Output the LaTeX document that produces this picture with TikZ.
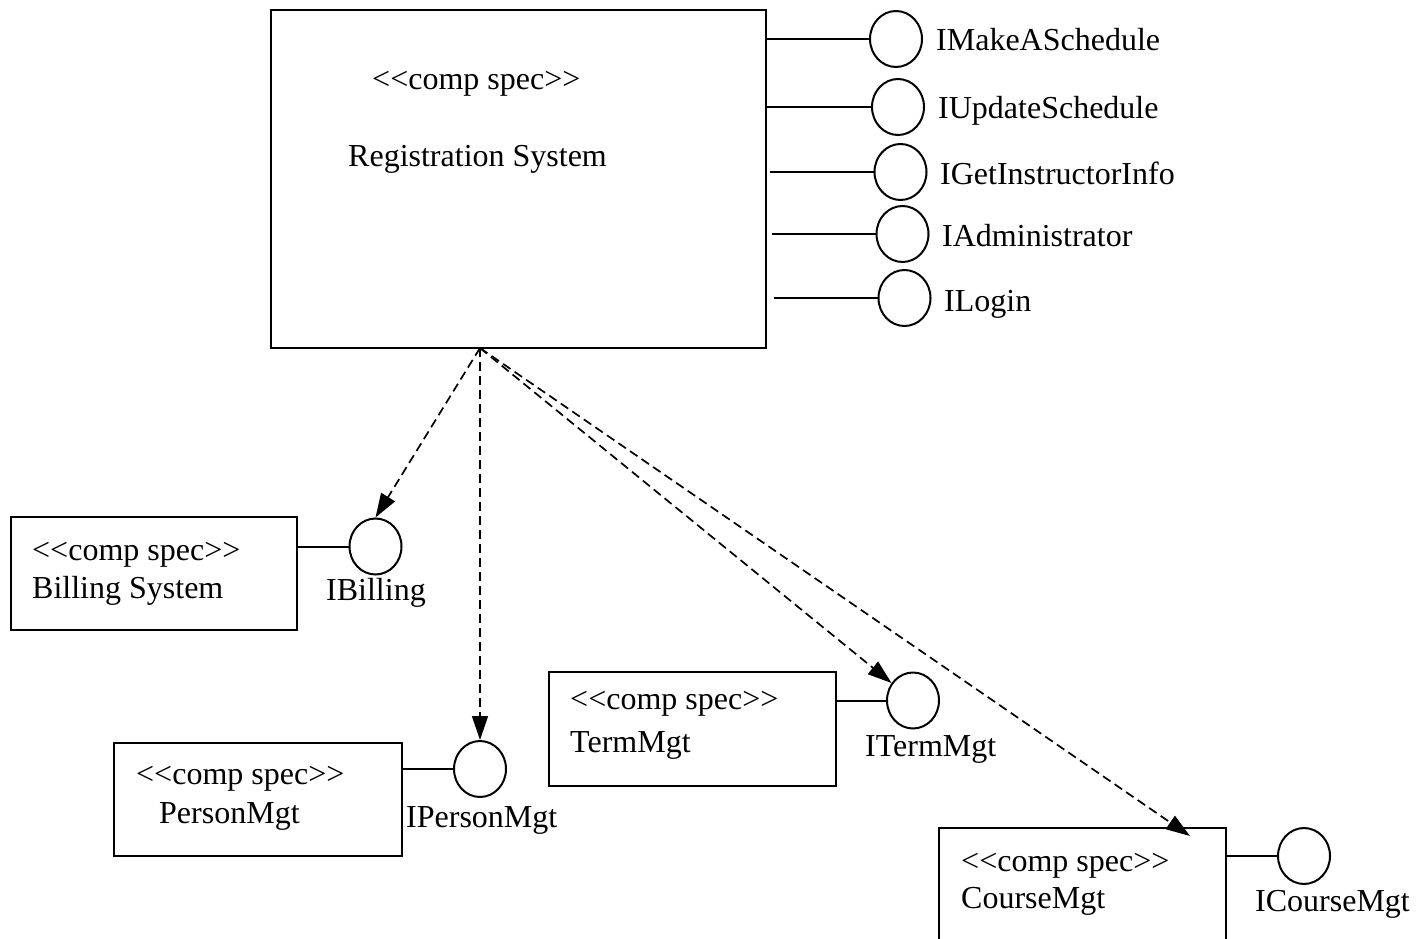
\documentclass[tikz,border=0pt]{standalone}
\usepackage{fontspec}
\setmainfont{Liberation Serif}
\usetikzlibrary{arrows.meta,shapes.geometric}
% stereotype label, kerned so the angle brackets stay separate glyphs
\newcommand\compspec{<\kern0pt<comp spec>\kern0pt>}

\begin{document}
\begin{tikzpicture}[x=1pt,y=-1pt,
  compbox/.style={draw, line width=2pt, rectangle, inner sep=0pt},
  iface/.style={draw, ellipse, line width=2pt, inner sep=0pt,
                minimum width=52pt, minimum height=56pt},
  txt/.style={anchor=base west, inner sep=0pt,
              font=\fontsize{32pt}{38pt}\selectfont},
  link/.style={line width=2pt},
  dep/.style={line width=1.7pt, dash pattern=on 9pt off 5pt,
              -{Triangle[length=24pt,width=16pt]}}]

\useasboundingbox (0,0) rectangle (1416,939);

% ---- Registration System ----
\node[compbox, minimum width=495pt, minimum height=338pt] (reg) at (518.5,179) {};
\node[txt] (regst) at (372,90) {\compspec};
\node[txt] (regname) at (348,167) {Registration System};

% provided interfaces
\node[iface] (mk) at (896,39) {};
\node[iface] (up) at (898,107) {};
\node[iface] (gi) at (900.5,172) {};
\node[iface] (ad) at (902.5,234) {};
\node[iface] (lo) at (904.5,298) {};
\coordinate (mkL) at (766,39);
\coordinate (upL) at (767,107);
\coordinate (giL) at (770,172);
\coordinate (adL) at (772,234);
\coordinate (loL) at (774,298);
\draw[link] (mkL) -- (mk.west);
\draw[link] (upL) -- (up.west);
\draw[link] (giL) -- (gi.west);
\draw[link] (adL) -- (ad.west);
\draw[link] (loL) -- (lo.west);
\node[txt] (mkt) at (936,51) {IMakeASchedule};
\node[txt] (upt) at (938,119) {IUpdateSchedule};
\node[txt] (git) at (940,184) {IGetInstructorInfo};
\node[txt] (adt) at (942,246) {IAdministrator};
\node[txt] (lot) at (944,311) {ILogin};

% ---- Billing System ----
\node[compbox, minimum width=286pt, minimum height=113pt] (bill) at (154,573.5) {};
\node[txt] (billst) at (32,560) {\compspec};
\node[txt] (billname) at (32,598) {Billing System};
\node[iface] (billc) at (375.5,546.5) {};
\draw[link] (bill.east |- billc.west) -- (billc.west);
\node[txt] (billt) at (326,600) {IBilling};

% ---- PersonMgt ----
\node[compbox, minimum width=288pt, minimum height=113pt] (pers) at (258,799.5) {};
\node[txt] (persst) at (136,784) {\compspec};
\node[txt] (persname) at (159,823) {PersonMgt};
\node[iface] (persc) at (480,769) {};
\draw[link] (pers.east |- persc.west) -- (persc.west);
\node[txt] (perst) at (406,827) {IPersonMgt};

% ---- TermMgt ----
\node[compbox, minimum width=287pt, minimum height=114pt] (term) at (692.5,729) {};
\node[txt] (termst) at (570,709) {\compspec};
\node[txt] (termname) at (570,752) {TermMgt};
\node[iface] (termc) at (913,700.5) {};
\draw[link] (term.east |- termc.west) -- (termc.west);
\node[txt] (termt) at (865,756) {ITermMgt};

% ---- CourseMgt (runs past the lower edge) ----
\node[compbox, minimum width=287pt, minimum height=172pt] (course) at (1082.5,914) {};
\node[txt] (coursest) at (961,871) {\compspec};
\node[txt] (coursename) at (961,908) {CourseMgt};
\node[iface] (coursec) at (1304,856) {};
\draw[link] (course.east |- coursec.west) -- (coursec.west);
\node[txt] (courset) at (1255,911) {ICourseMgt};

% ---- required interfaces (dependencies) ----
\coordinate (src) at (480,348);
\coordinate (ctip) at (1190,836);
\draw[dep] (src) -- (billc.north);
\draw[dep] (src) -- (persc.north);
\draw[dep] (src) -- (termc);
\draw[dep] (src) -- (ctip);

\end{tikzpicture}
\end{document}
